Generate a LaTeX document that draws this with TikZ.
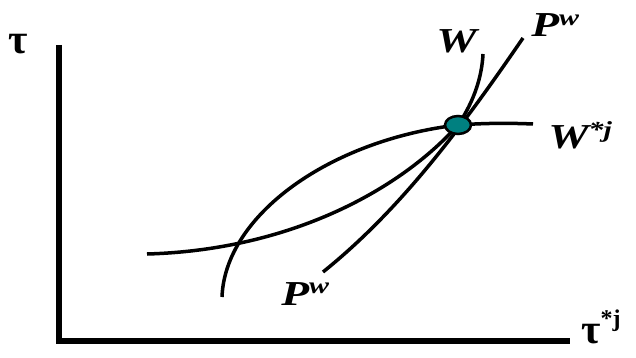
\documentclass[tikz,border=0pt]{standalone}
\usepackage{fontspec}
\setmainfont{Liberation Serif}
\usetikzlibrary{shapes.geometric}
\definecolor{dotteal}{RGB}{0,128,128}
\newcommand\mysup[1]{\raisebox{0.33em}{\fontsize{23}{23}\selectfont #1}}
\begin{document}
\begin{tikzpicture}[x=1pt,y=-1pt,
  axisline/.style={line width=6pt},
  curveline/.style={line width=3.5pt},
  lab/.style={inner sep=0pt,anchor=base west,xscale=1.3,font=\fontsize{35}{35}\selectfont\bfseries\itshape},
  taulab/.style={inner sep=0pt,anchor=base west,font=\fontsize{42}{42}\selectfont\bfseries}]
\useasboundingbox (0,0) rectangle (636,358);
% axes
\coordinate (top) at (59,45);
\coordinate (origin) at (59,341);
\coordinate (right) at (570,341);
\draw[axisline] (top) -- (59,344);
\draw[axisline] (56,341) -- (right);
% curves
\coordinate (eq) at (458,125);
% W
\draw[curveline] (147,254) .. controls (290,250) and (400,190) .. (eq)
  .. controls (475,100) and (482,75) .. (483,54);
% W*j
\draw[curveline] (222,297) .. controls (225,215) and (330,140) .. (eq)
  .. controls (485,123) and (510,123) .. (533,124);
% P^w
\draw[curveline] (323,272) .. controls (400,210) and (460,130) .. (523,38);
% equilibrium dot
\node[ellipse, draw=black, line width=2.5pt, fill=dotteal, minimum width=26pt, minimum height=18pt, inner sep=0pt] (dot) at (eq) {};
% labels
\node[taulab] (tauy) at (8,54) {τ};
\node[taulab] (taux) at (581,343) {τ\raisebox{0.4em}{\fontsize{24}{24}\selectfont *j}};
\node[lab] (Wl) at (436,53) {W};
\node[lab] (Pwtop) at (531,37) {P\mysup{w}};
\node[lab] (Wj) at (548,149) {W\mysup{*j}};
\node[lab] (Pwbot) at (281,305) {P\mysup{w}};
\end{tikzpicture}
\end{document}
